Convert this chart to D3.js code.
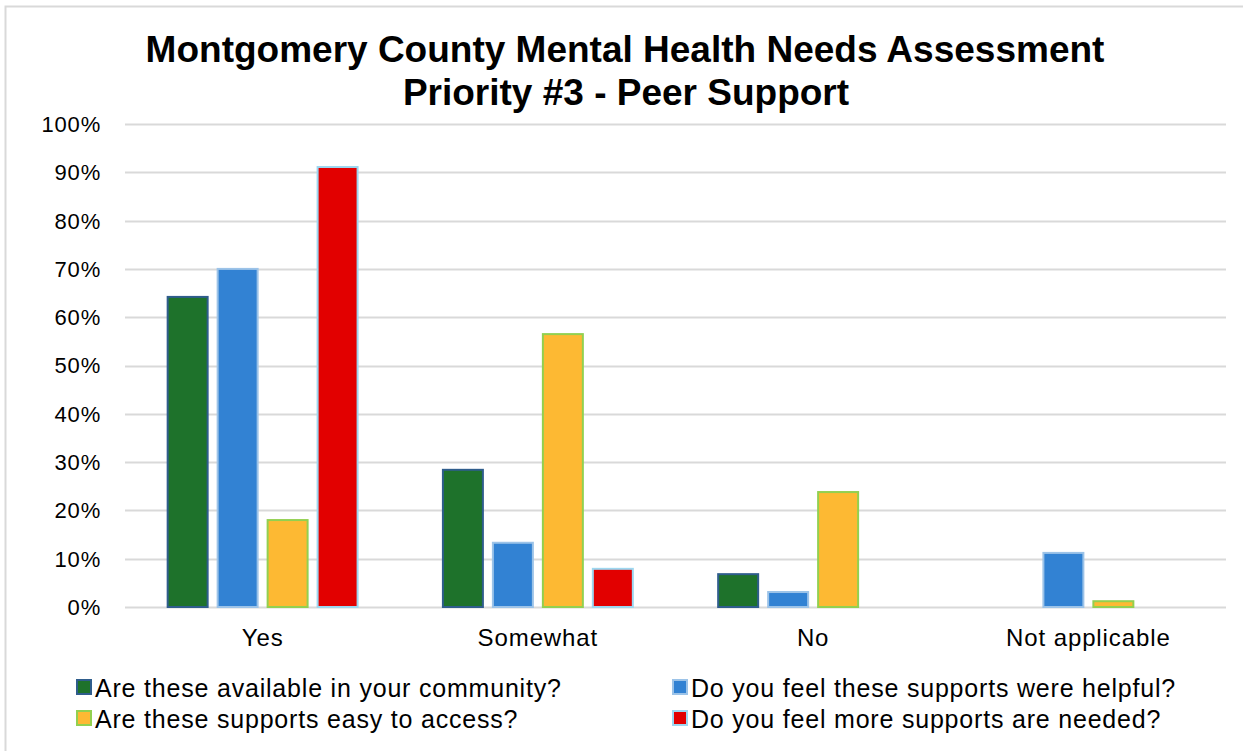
<!DOCTYPE html>
<html lang="en">
  <head>
    <meta charset="UTF-8" />
    <title>Montgomery County Mental Health Needs Assessment</title>
    <script src="https://d3js.org/d3.v7.min.js"></script>
    <style>
      body {
        margin: 0;
        background: #fff;
      }
      text {
        font-family: "Liberation Sans", Arial, sans-serif;
        fill: #000;
      }
      .title {
        font-weight: bold;
        font-size: 37px;
      }
      .tick-label {
        font-size: 22px;
        letter-spacing: 0.8px;
      }
      .cat-label {
        font-size: 24px;
        letter-spacing: 0.9px;
      }
      .legend-label {
        font-size: 25px;
        letter-spacing: 0.8px;
      }
    </style>
  </head>
  <body>
    <svg width="1243" height="751"></svg>
    <script>
      // Data
      var categories = ["Yes", "Somewhat", "No", "Not applicable"];
      var seriesNames = [
        "Are these available in your community?",
        "Do you feel these supports were helpful?",
        "Are these supports easy to access?",
        "Do you feel more supports are needed?"
      ];
      var available = [0.642, 0.284, 0.068, 0];
      var helpful = [0.70, 0.133, 0.031, 0.112];
      var easyAccess = [0.18, 0.565, 0.238, 0.012];
      var moreNeeded = [0.911, 0.079, 0, 0];
      var yTicks = [0, 0.1, 0.2, 0.3, 0.4, 0.5, 0.6, 0.7, 0.8, 0.9, 1];

      var fills = ["#1e722b", "#3282d3", "#fdb933", "#e20000"];
      var strokes = ["#2f5d8c", "#9cc3e8", "#92d050", "#9dd7f0"];

      var series = [available, helpful, easyAccess, moreNeeded];

      var svg = d3.select("svg");

      // outer chart border (only top and left edges visible in the crop)
      svg
        .append("rect")
        .attr("x", 5.5)
        .attr("y", 6.5)
        .attr("width", 1300)
        .attr("height", 800)
        .attr("fill", "none")
        .attr("stroke", "#d9d9d9")
        .attr("stroke-width", 2);

      var plotLeft = 125,
        plotRight = 1226,
        plotTop = 124,
        plotBottom = 607;

      var y = d3.scaleLinear().domain([0, 1]).range([plotBottom, plotTop]);
      var x0 = d3
        .scaleBand()
        .domain(categories)
        .range([plotLeft, plotRight])
        .paddingInner(0.31)
        .paddingOuter(0.155);
      var x1 = d3
        .scaleBand()
        .domain(d3.range(series.length))
        .range([0, x0.bandwidth()])
        .paddingInner(0.2);

      // gridlines
      svg
        .append("g")
        .selectAll("line")
        .data(yTicks)
        .enter()
        .append("line")
        .attr("x1", plotLeft)
        .attr("x2", plotRight)
        .attr("y1", function (d) {
          return Math.round(y(d)) + 0.5;
        })
        .attr("y2", function (d) {
          return Math.round(y(d)) + 0.5;
        })
        .attr("stroke", "#d9d9d9")
        .attr("stroke-width", 2);

      // y tick labels
      svg
        .append("g")
        .selectAll("text")
        .data(yTicks)
        .enter()
        .append("text")
        .attr("class", "tick-label")
        .attr("x", 101)
        .attr("y", function (d) {
          return y(d);
        })
        .attr("dy", "0.36em")
        .attr("text-anchor", "end")
        .text(d3.format(".0%"));

      // bars
      var groups = svg
        .append("g")
        .selectAll("g")
        .data(categories)
        .enter()
        .append("g")
        .attr("transform", function (d) {
          return "translate(" + x0(d) + ",0)";
        });

      groups
        .selectAll("rect")
        .data(function (d, i) {
          return series.map(function (s, k) {
            return { k: k, v: s[i] };
          });
        })
        .enter()
        .filter(function (d) {
          return d.v > 0;
        })
        .append("rect")
        .attr("x", function (d) {
          return x1(d.k);
        })
        .attr("width", x1.bandwidth())
        .attr("y", function (d) {
          return y(d.v);
        })
        .attr("height", function (d) {
          return plotBottom - y(d.v);
        })
        .attr("fill", function (d) {
          return fills[d.k];
        })
        .attr("stroke", function (d) {
          return strokes[d.k];
        })
        .attr("stroke-width", 2);

      // category labels
      svg
        .append("g")
        .selectAll("text")
        .data(categories)
        .enter()
        .append("text")
        .attr("class", "cat-label")
        .attr("x", function (d) {
          return x0(d) + x0.bandwidth() / 2;
        })
        .attr("y", 646)
        .attr("text-anchor", "middle")
        .text(function (d) {
          return d;
        });

      // title
      var title = svg
        .append("text")
        .attr("class", "title")
        .attr("text-anchor", "middle");
      title.append("tspan").attr("x", 625).attr("y", 62).text("Montgomery County Mental Health Needs Assessment");
      title.append("tspan").attr("x", 626).attr("y", 105).text("Priority #3 - Peer Support");

      // legend: two columns, series 0/1 on the first row, 2/3 on the second
      var legendPos = [
        [76, 697],
        [672, 697],
        [76, 728],
        [672, 728]
      ];
      var legend = svg
        .append("g")
        .selectAll("g")
        .data(d3.range(seriesNames.length))
        .enter()
        .append("g")
        .attr("transform", function (d) {
          return "translate(" + legendPos[d][0] + "," + legendPos[d][1] + ")";
        });
      legend
        .append("rect")
        .attr("x", 1)
        .attr("y", -17)
        .attr("width", 14)
        .attr("height", 14)
        .attr("fill", function (d) {
          return fills[d];
        })
        .attr("stroke", function (d) {
          return strokes[d];
        })
        .attr("stroke-width", 2);
      legend
        .append("text")
        .attr("class", "legend-label")
        .attr("x", 19)
        .attr("y", 0)
        .text(function (d) {
          return seriesNames[d];
        });
    </script>
  </body>
</html>
